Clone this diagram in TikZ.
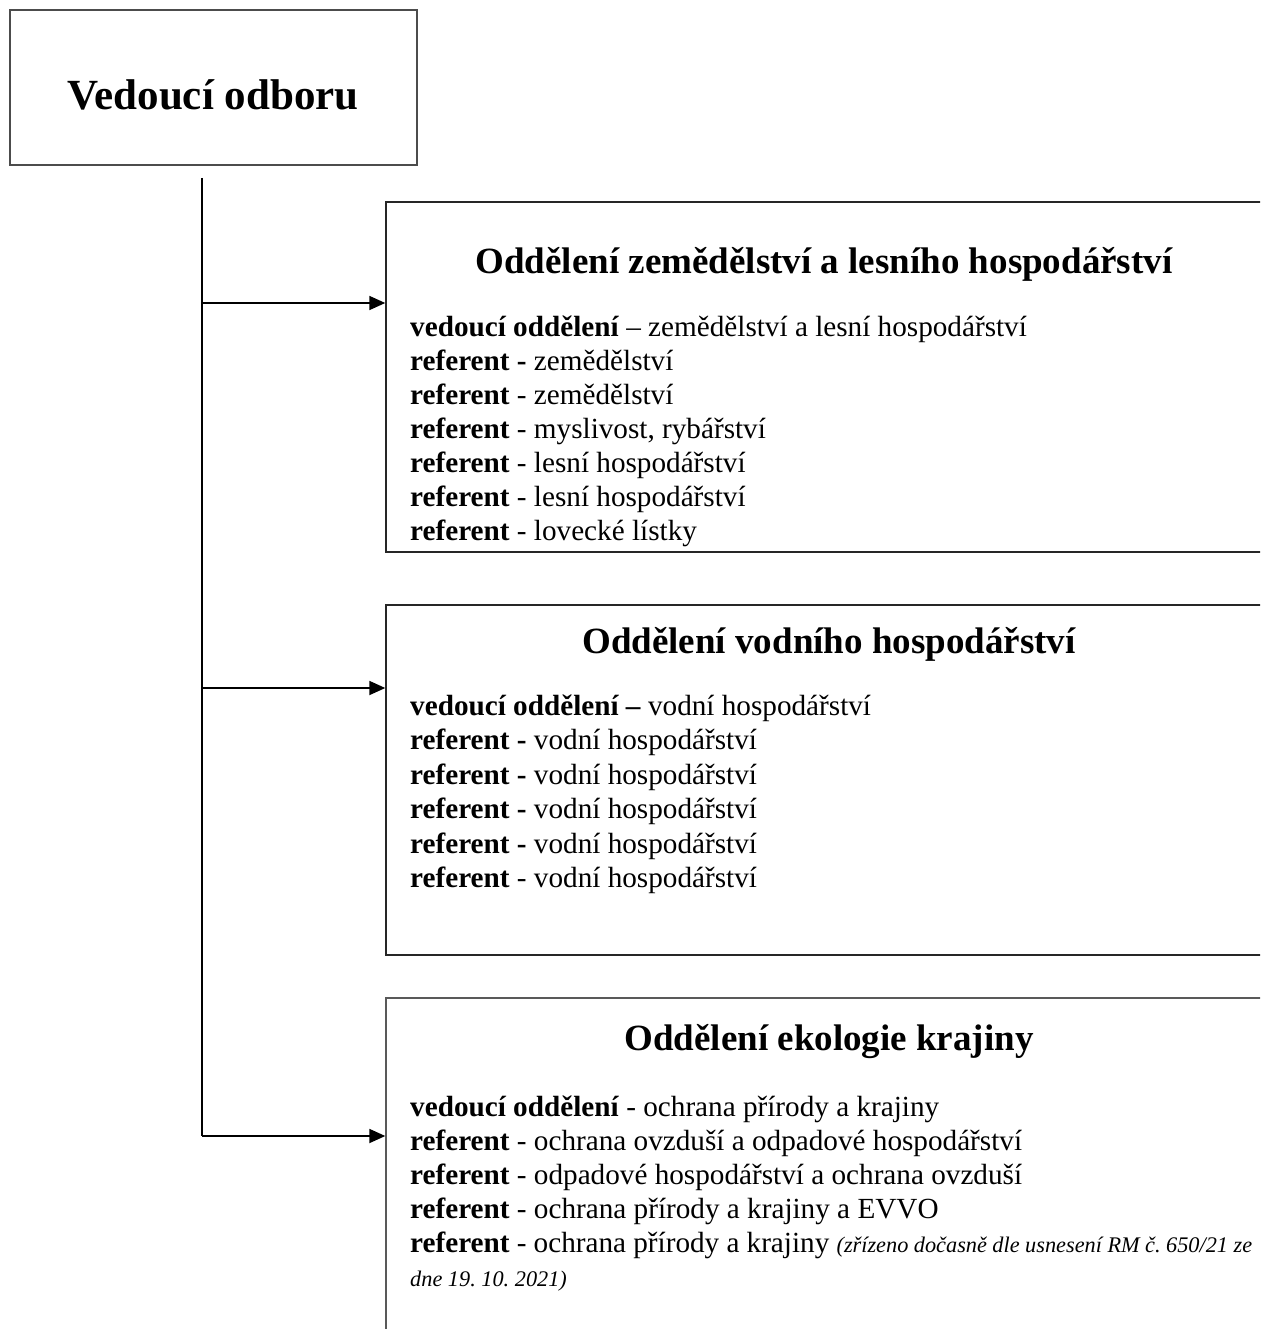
\documentclass[tikz,border=0pt]{standalone}
\usepackage{fontspec}
\setmainfont{Liberation Serif}
\frenchspacing
\usetikzlibrary{arrows.meta}
\tikzset{
  boxframe/.style={draw=black!85, line width=1.4pt, rectangle, inner sep=0pt},
  linktxt/.style={anchor=base west, inner sep=0pt, font=\fontsize{29.2}{34.2}\selectfont},
  headtxt/.style={anchor=base, inner sep=0pt, font=\fontsize{37}{45}\selectfont\bfseries},
  conn/.style={line width=1.8pt, -{Triangle[length=16pt,width=14pt]}},
  trunkline/.style={line width=1.8pt}
}
\begin{document}
\begin{tikzpicture}[x=1pt,y=-1pt]
\clip (0,0) rectangle (1260,1329);
\fill[white] (0,0) rectangle (1260,1329);
% top box
\node[boxframe, draw=black!70, minimum width=407pt, minimum height=155pt] (head) at (213.5,87.5) {};
\node[anchor=base, inner sep=0pt, font=\fontsize{43}{50}\selectfont\bfseries] (headt) at (213,110) {Vedoucí odboru};
% department boxes
\node[boxframe, minimum width=884pt, minimum height=350pt] (box1) at (828,377) {};
\node[boxframe, minimum width=884pt, minimum height=350pt] (box2) at (828,780) {};
\node[boxframe, draw=black!65, minimum width=884pt, minimum height=352pt] (box3) at (828,1174) {};
% trunk and connectors
\coordinate (top) at (202,178);
\coordinate (b1) at (202,303);
\coordinate (b2) at (202,688);
\coordinate (b3) at (202,1136);
\draw[trunkline] (top) -- (b3);
\draw[conn] (b1) -- (b1 -| box1.west);
\draw[conn] (b2) -- (b2 -| box2.west);
\draw[conn] (b3) -- (b3 -| box3.west);
% box 1 text
\node[headtxt] (h1) at (824,274) {Oddělení zemědělství a lesního hospodářství};
\node[linktxt] (l11) at (410,336) {\textbf{vedoucí oddělení} – zemědělství a lesní hospodářství};
\node[linktxt] (l12) at (410,370) {\textbf{referent -} zemědělství};
\node[linktxt] (l13) at (410,404) {\textbf{referent} - zemědělství};
\node[linktxt] (l14) at (410,438) {\textbf{referent} - myslivost, rybářství};
\node[linktxt] (l15) at (410,472) {\textbf{referent} - lesní hospodářství};
\node[linktxt] (l16) at (410,506) {\textbf{referent} - lesní hospodářství};
\node[linktxt] (l17) at (410,540) {\textbf{referent} - lovecké lístky};
% box 2 text
\node[headtxt] (h2) at (829,653) {Oddělení vodního hospodářství};
\node[linktxt] (l21) at (410,715) {\textbf{vedoucí oddělení –} vodní hospodářství};
\node[linktxt] (l22) at (410,749) {\textbf{referent -} vodní hospodářství};
\node[linktxt] (l23) at (410,784) {\textbf{referent -} vodní hospodářství};
\node[linktxt] (l24) at (410,818) {\textbf{referent -} vodní hospodářství};
\node[linktxt] (l25) at (410,853) {\textbf{referent -} vodní hospodářství};
\node[linktxt] (l26) at (410,887) {\textbf{referent} - vodní hospodářství};
% box 3 text
\node[headtxt] (h3) at (829,1050) {Oddělení ekologie krajiny};
\node[linktxt] (l31) at (410,1116) {\textbf{vedoucí oddělení} - ochrana přírody a krajiny};
\node[linktxt] (l32) at (410,1150) {\textbf{referent} - ochrana ovzduší a odpadové hospodářství};
\node[linktxt] (l33) at (410,1184) {\textbf{referent} - odpadové hospodářství a ochrana ovzduší};
\node[linktxt] (l34) at (410,1218) {\textbf{referent} - ochrana přírody a krajiny a EVVO};
\node[linktxt] (l35) at (410,1252) {\makebox[842pt][s]{\textbf{referent} - ochrana přírody a krajiny {\fontsize{22.3}{28}\selectfont\itshape (zřízeno dočasně dle usnesení RM č. 650/21 ze}}};
\node[linktxt, font=\fontsize{22.3}{28}\selectfont\itshape] (l36) at (410,1286) {dne 19. 10. 2021)};
\end{tikzpicture}
\end{document}
